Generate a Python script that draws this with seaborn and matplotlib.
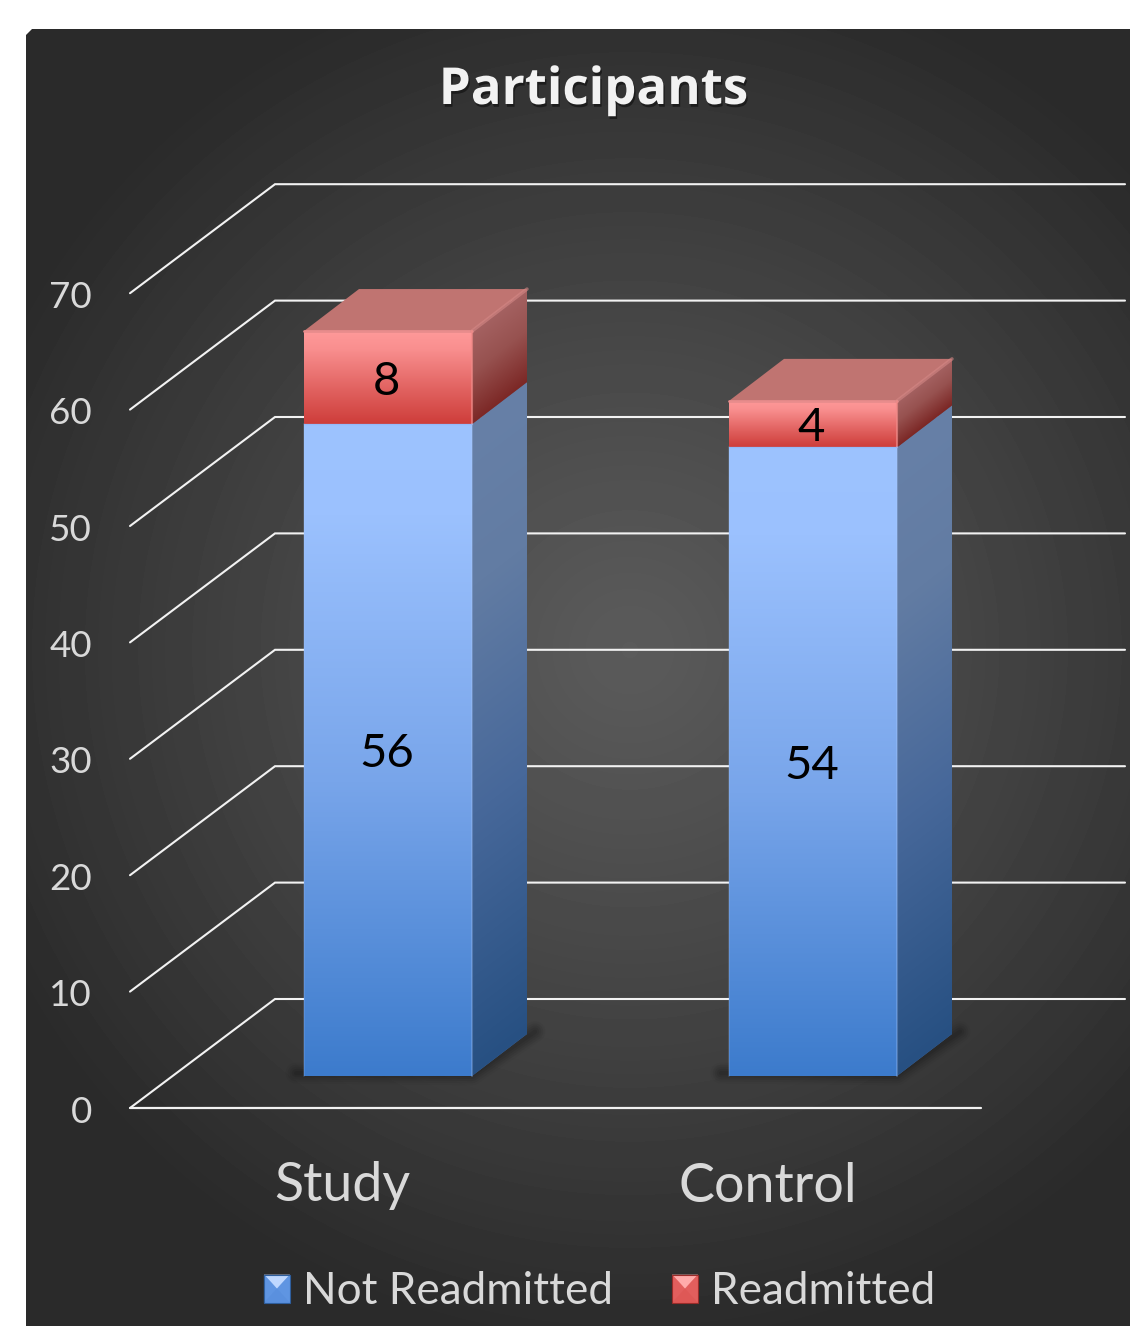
import numpy as np
import pandas as pd
import matplotlib
matplotlib.use("Agg")
import matplotlib.pyplot as plt
import matplotlib.patheffects as pe
from matplotlib.colors import to_rgb
from matplotlib.legend_handler import HandlerBase
from matplotlib.patches import Polygon, Patch
import seaborn as sns

# Chart values
groups = ["Study", "Control"]
not_readmitted = [56, 54]
readmitted = [8, 4]
y_ticks = [0, 10, 20, 30, 40, 50, 60, 70]
series_names = ["Not Readmitted", "Readmitted"]
chart_title = "Participants"

# Canvas geometry
W, H = 1130, 1326
PX_PER_GROUP = 425.0
PX_PER_UNIT = 11.64
GROUP0_PX, BASE_PX = 388.0, 1076.0
BAR_WIDTH = 168 / PX_PER_GROUP

# Oblique projection of the bar depth and the chart box
DEPTH_X = 55 / PX_PER_GROUP
DEPTH_Y = 42 / PX_PER_UNIT
FRONT_Y = -32 / PX_PER_UNIT
BACK_Y = 77 / PX_PER_UNIT
FRONT_LEFT = (130 - GROUP0_PX) / PX_PER_GROUP
BACK_LEFT = (275 - GROUP0_PX) / PX_PER_GROUP
BACK_RIGHT = (1125 - GROUP0_PX) / PX_PER_GROUP
FRONT_RIGHT = (981 - GROUP0_PX) / PX_PER_GROUP

BLUE_FRONT = [(0, "#9DC3FF"), (0.14, "#9BC1FE"), (0.55, "#78A5EA"), (1, "#3C7BCC")]
BLUE_SIDE = [(0, "#6780A7"), (0.25, "#627CA3"), (0.6, "#47689A"), (1, "#275082")]
RED_FRONT = [(0, "#FF9A9A"), (0.2, "#F98F8F"), (0.65, "#E0605E"), (1, "#CE3D3A")]
RED_SIDE = [(0, "#A56262"), (0.45, "#975250"), (1, "#7C2826")]
RED_TOP = "#C07471"

sns.set_theme(style="white")
plt.rcParams["font.family"] = ["Lato", "DejaVu Sans"]

fig = plt.figure(figsize=(W / 100, H / 100), dpi=100, facecolor="white")

# Panel with a radial glow behind the chart
bg = fig.add_axes([0, 0, 1, 1], zorder=0)
bg.set_axis_off()
gx, gy = np.meshgrid(np.arange(W) + 0.5, np.arange(H) + 0.5)
r = np.hypot((gx - 630) / 700, (gy - 650) / 700)
level = (0x5B - (0x5B - 0x2A) * np.clip(r, 0, 1) ** 1.1) / 255
glow = bg.imshow(level, cmap="gray", vmin=0, vmax=1, extent=(0, W, H, 0), aspect="auto")
panel = Polygon([(26, 35), (32, 29), (W, 29), (W, H), (26, H)], transform=bg.transData,
                facecolor="none", edgecolor="none")
bg.add_patch(panel)
glow.set_clip_path(panel)
bg.set_xlim(0, W)
bg.set_ylim(H, 0)

ax = fig.add_axes([0, 0, 1, 1], zorder=1)
ax.patch.set_visible(False)


def blend(stops, t):
    pos = [s[0] for s in stops]
    rgb = np.array([to_rgb(s[1]) for s in stops])
    return np.dstack([np.interp(t, pos, rgb[:, i]) for i in range(3)])


def shade(clip, stops, v_top, v_bottom, x_ref=None, shear=0.0, zorder=4.5):
    """Paint a vertical colour ramp inside a patch, optionally sheared along the depth axis."""
    verts = clip.get_path().vertices
    verts = clip.get_patch_transform().transform(verts)
    x0, x1 = verts[:, 0].min(), verts[:, 0].max()
    y0, y1 = verts[:, 1].min(), verts[:, 1].max()
    xx, yy = np.meshgrid(np.linspace(x0, x1, 120), np.linspace(y0, y1, 500))
    ref = x0 if x_ref is None else x_ref
    t = (v_top - (yy - shear * (xx - ref))) / (v_top - v_bottom)
    img = ax.imshow(blend(stops, np.clip(t, 0, 1)), origin="lower", extent=(x0, x1, y0, y1),
                    aspect="auto", zorder=zorder, interpolation="bilinear")
    img.set_clip_path(clip)


# Gridlines: back wall, receding edge and the floor line
for v in y_ticks:
    ax.plot([FRONT_LEFT, BACK_LEFT, BACK_RIGHT], [v + FRONT_Y, v + BACK_Y, v + BACK_Y],
            color="#F2F2F2", lw=1.5, zorder=1, solid_joinstyle="miter")
ax.plot([FRONT_LEFT, FRONT_RIGHT], [FRONT_Y, FRONT_Y], color="#F2F2F2", lw=1.6, zorder=1)

# Stacked front faces
data = pd.DataFrame({"group": groups, "not_readmitted": not_readmitted, "readmitted": readmitted})
sns.barplot(data=data, x="group", y="not_readmitted", order=groups, color="#6FA0E8",
            width=BAR_WIDTH, errorbar=None, ax=ax, zorder=4, linewidth=0)
sns.barplot(data=data, x="group", y="readmitted", order=groups, color="#E46362",
            bottom=data["not_readmitted"].to_numpy(), width=BAR_WIDTH, errorbar=None,
            ax=ax, zorder=4, linewidth=0)
blue_bars, red_bars = ax.containers[0], ax.containers[1]

for blue, red in zip(blue_bars, red_bars):
    x0, x1 = blue.get_x(), blue.get_x() + blue.get_width()
    v_mid = blue.get_y() + blue.get_height()
    v_top = v_mid + red.get_height()
    shear = DEPTH_Y / DEPTH_X

    # Soft contact shadow on the floor
    sx = [x0 - 8 / PX_PER_GROUP, x1, x1 + DEPTH_X + 8 / PX_PER_GROUP]
    sy = [0.25, 0.1, DEPTH_Y + 0.2]
    for lw, alpha in zip([15, 12, 9, 6, 3], [0.03, 0.05, 0.06, 0.07, 0.08]):
        ax.plot(sx, sy, color="black", lw=lw, alpha=alpha, zorder=2, solid_capstyle="round")

    # Front gradients
    shade(blue, BLUE_FRONT, v_mid, 0)
    shade(red, RED_FRONT, v_top, v_mid)

    # Side faces
    blue_side = Polygon([(x1, 0), (x1 + DEPTH_X, DEPTH_Y), (x1 + DEPTH_X, v_mid + DEPTH_Y), (x1, v_mid)],
                        facecolor="#47689A", edgecolor="none", zorder=3)
    red_side = Polygon([(x1, v_mid), (x1 + DEPTH_X, v_mid + DEPTH_Y), (x1 + DEPTH_X, v_top + DEPTH_Y), (x1, v_top)],
                       facecolor="#975250", edgecolor="none", zorder=3)
    ax.add_patch(blue_side)
    ax.add_patch(red_side)
    shade(blue_side, BLUE_SIDE, v_mid, 0, x_ref=x1, shear=shear, zorder=3.2)
    shade(red_side, RED_SIDE, v_top, v_mid, x_ref=x1, shear=shear, zorder=3.2)

    # Top face
    top = Polygon([(x0, v_top), (x1, v_top), (x1 + DEPTH_X, v_top + DEPTH_Y), (x0 + DEPTH_X, v_top + DEPTH_Y)],
                  facecolor=RED_TOP, edgecolor="none", zorder=3.4, joinstyle="round")
    ax.add_patch(top)

    # Bevel highlights along the box edges
    ax.plot([x0, x1], [v_top, v_top], color="#E88C8C", lw=2, zorder=5)
    ax.plot([x1, x1 + DEPTH_X], [v_top, v_top + DEPTH_Y], color="#D58886", lw=2.5, alpha=0.6, zorder=5)
    ax.plot([x1, x1], [v_mid, v_top], color="#F08A88", lw=1.5, alpha=0.7, zorder=5)
    ax.plot([x1, x1], [0, v_mid], color="#A6C8FF", lw=1.5, alpha=0.3, zorder=5)
    ax.plot([x0, x0], [0, v_mid], color="#A6C8FF", lw=1.2, alpha=0.2, zorder=5)
    ax.plot([x0, x1], [v_mid, v_mid], color="#8DB6F8", lw=1.0, alpha=0.6, zorder=5)

    # Segment values
    x_mid = (x0 + x1) / 2
    ax.text(x_mid - 0.004, v_mid / 2 - 0.35, f"{blue.get_height():.0f}", ha="center", va="center",
            fontsize=34, color="black", zorder=6)
    ax.text(x_mid - 0.004, v_mid + red.get_height() / 2 - 0.35, f"{red.get_height():.0f}", ha="center",
            va="center", fontsize=34, color="black", zorder=6)

# Value axis labels
for v in y_ticks:
    ax.text(FRONT_LEFT - 38 / PX_PER_GROUP, v + FRONT_Y - 0.35, f"{v}", ha="right", va="center",
            fontsize=26.5, color="#D9D9D9", zorder=6)

# Category labels sit on the front plane of the floor
for i, name in enumerate(groups):
    ax.text(i - 45.5 / PX_PER_GROUP, -110 / PX_PER_UNIT, name, ha="center", va="center",
            fontsize=38.8, color="#D9D9D9", zorder=6)

ax.set_title("")
ax.text(593.5 / W, 1 - 91 / H, chart_title, transform=ax.transAxes, ha="center", va="center",
        fontsize=36.7, fontweight="bold", family=["Open Sans", "DejaVu Sans"], color="#F2F2F2", zorder=6,
        path_effects=[pe.withSimplePatchShadow(offset=(1, -2), shadow_rgbFace="black", alpha=0.45)])


class PyramidKey(HandlerBase):
    """Legend key drawn as a small bevelled square."""

    def __init__(self, faces, base, rim):
        super().__init__()
        self.faces = faces
        self.base = base
        self.rim = rim

    def create_artists(self, legend, orig_handle, xdescent, ydescent, width, height, fontsize, trans):
        x0, y0 = -xdescent, -ydescent
        x1, y1 = x0 + width, y0 + height
        c = ((x0 + x1) / 2, (y0 + y1) / 2)
        square = [(x0, y0), (x1, y0), (x1, y1), (x0, y1)]
        tris = [[(x0, y1), (x1, y1), c], [(x0, y0), (x0, y1), c],
                [(x1, y0), (x1, y1), c], [(x0, y0), (x1, y0), c]]
        arts = [Polygon(square, facecolor=self.base, edgecolor="none", transform=trans)]
        arts += [Polygon(t, facecolor=f, edgecolor=f, lw=0.3, transform=trans)
                 for t, f in zip(tris, self.faces)]
        arts.append(Polygon(square, facecolor="none", edgecolor=self.rim, lw=0.8, transform=trans))
        return arts


blue_key = Patch(label=series_names[0])
red_key = Patch(label=series_names[1])
ax.legend(handles=[blue_key, red_key], ncols=2, frameon=False, loc="center",
          bbox_to_anchor=(599.5 / W, 1 - 1292 / H), bbox_transform=fig.transFigure,
          fontsize=31.8, labelcolor="#D9D9D9", handlelength=0.58, handleheight=0.6,
          handletextpad=0.29, columnspacing=1.35, borderpad=0,
          handler_map={blue_key: PyramidKey(["#BFD8FF", "#5F95E2", "#5F95E2", "#5A90DE"], "#5F95E2", "#2F5F9E"),
                       red_key: PyramidKey(["#FFABAB", "#E25E5D", "#E25E5D", "#DE5856"], "#E25E5D", "#9A2C2A")})

# Pixel-aligned data limits for the oblique projection
ax.set_xlim(-GROUP0_PX / PX_PER_GROUP, (W - GROUP0_PX) / PX_PER_GROUP)
ax.set_ylim((BASE_PX - H) / PX_PER_UNIT, BASE_PX / PX_PER_UNIT)
ax.set_axis_off()

fig.savefig("out.png", dpi=100, facecolor="white")
